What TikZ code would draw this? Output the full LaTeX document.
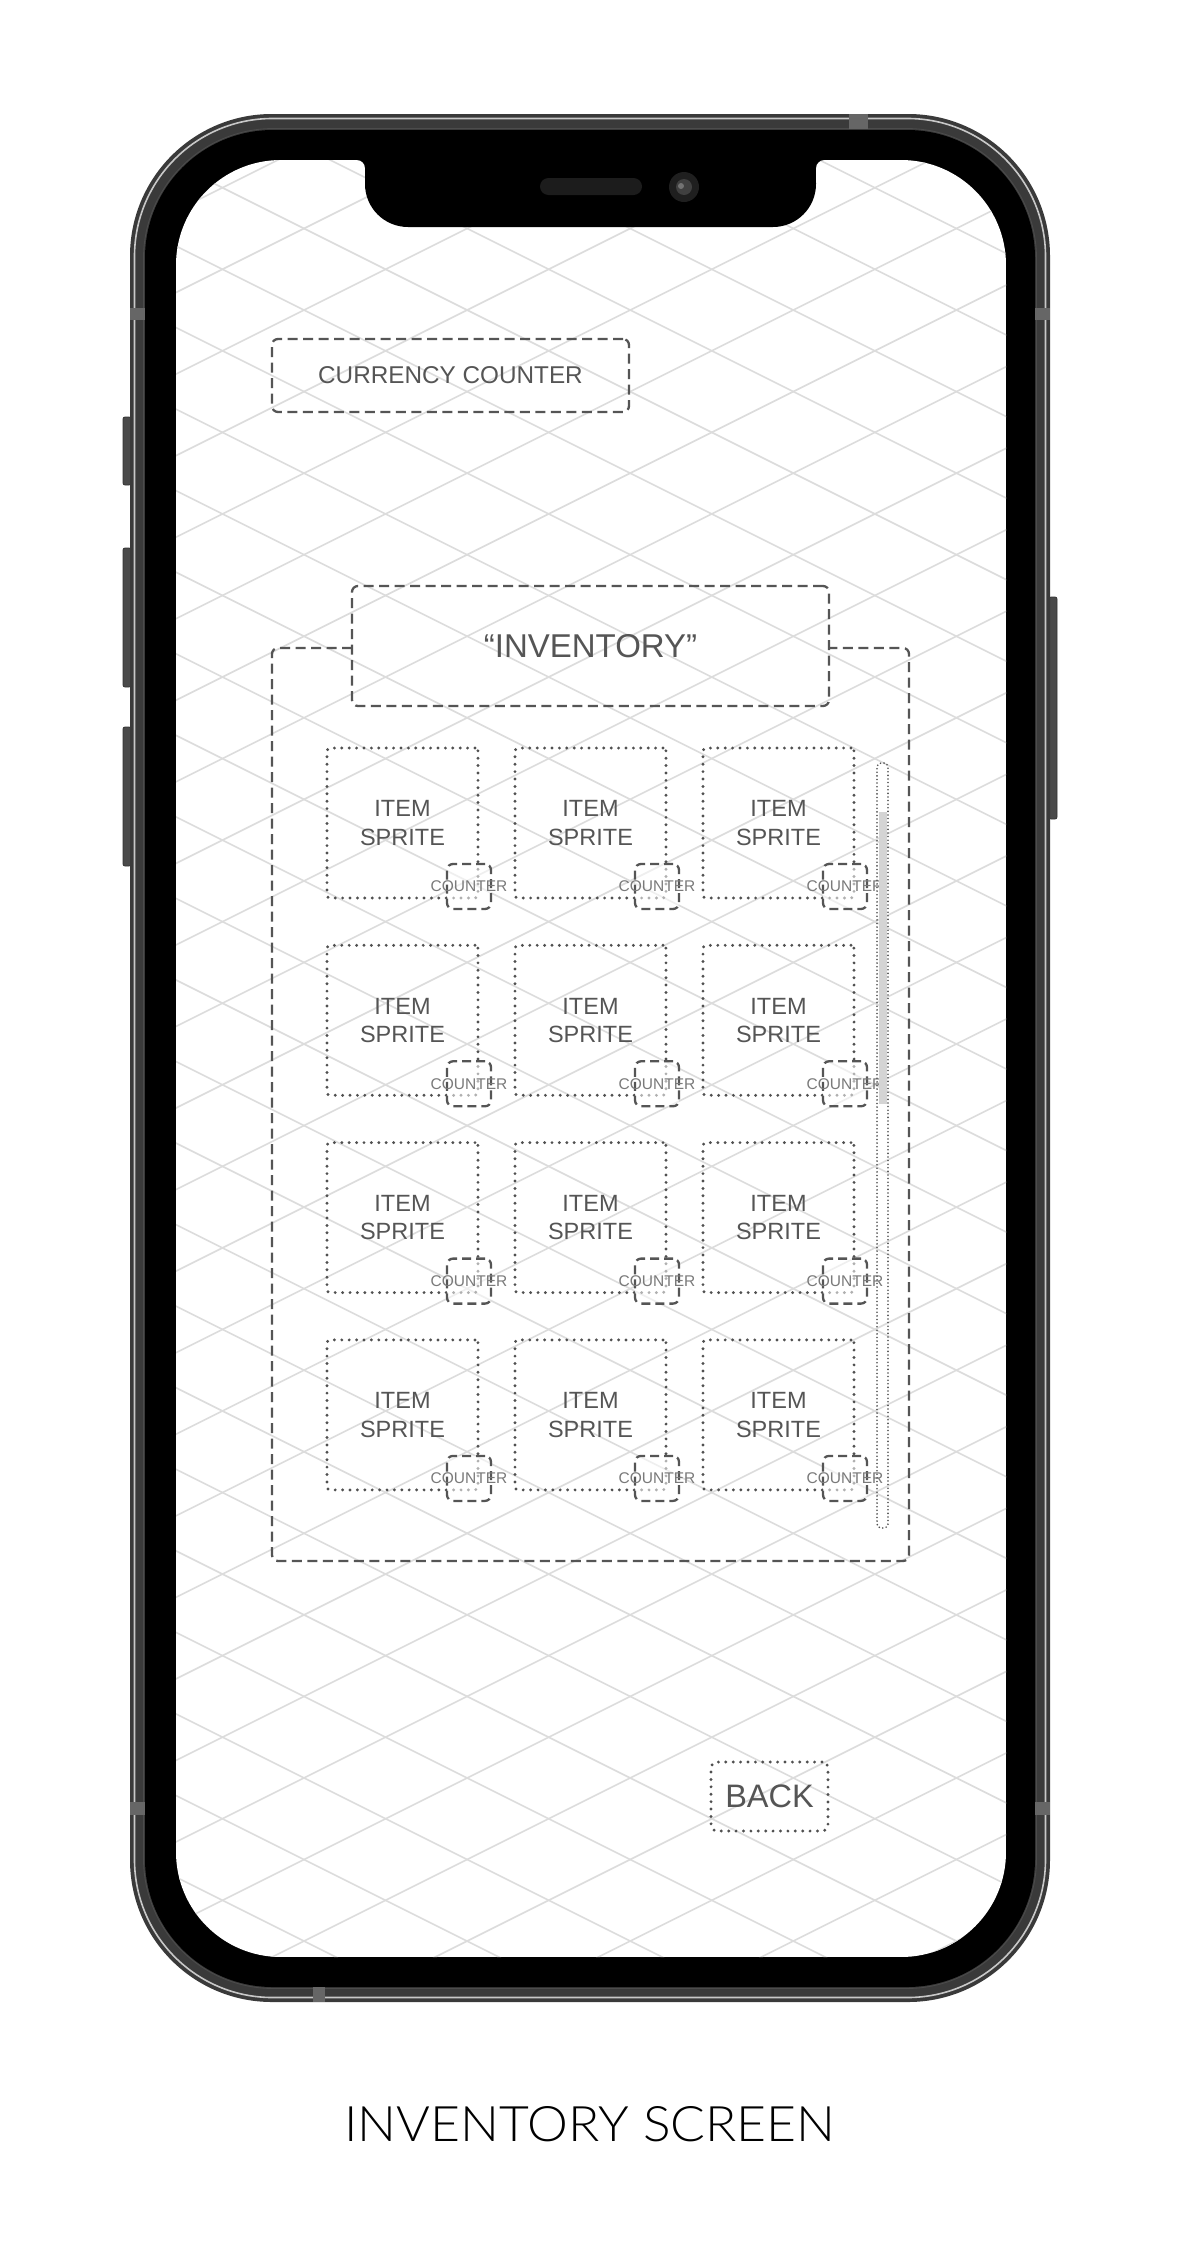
\documentclass[tikz,border=0pt]{standalone}
\usepackage{fontspec}
\usepackage{graphicx}
\setmainfont{Liberation Sans}
\IfFontExistsTF{Lato Light}{\newfontfamily\capfont{Lato Light}}{\newfontfamily\capfont{Liberation Sans}}
\definecolor{framegray}{HTML}{3A3A3A}
\definecolor{framelight}{HTML}{C8C8C8}
\definecolor{markgray}{HTML}{666666}
\definecolor{btngray}{HTML}{4A4A4A}
\definecolor{gridgray}{HTML}{DCDCDC}
\definecolor{uigray}{HTML}{555555}
\definecolor{dotgray}{HTML}{505050}
\definecolor{txtgray}{HTML}{555555}
\definecolor{cntgray}{HTML}{7A7A7A}
\definecolor{thumbgray}{HTML}{D4D4D4}
\definecolor{spkgray}{HTML}{1C1C1C}
\begin{document}
\begin{tikzpicture}[x=1pt,y=-1pt,
  every node/.style={inner sep=0pt, outer sep=0pt},
  dashline/.style={draw=uigray, line width=2.3pt, dash pattern=on 10pt off 5.5pt},
  dotline/.style={draw=dotgray, line width=3.2pt, line cap=round, dash pattern=on 0pt off 7.4pt},
  smalldots/.style={draw=dotgray, line width=1.8pt, line cap=round, dash pattern=on 0pt off 3.6pt},
  gridline/.style={draw=gridgray, line width=1.6pt},
  dbox/.style={rectangle, dashline, rounded corners=6pt, text=txtgray},
  itembox/.style={rectangle, dotline, rounded corners=3pt, minimum width=151pt, minimum height=150pt, text=txtgray, align=center, font=\fontsize{23.5}{28.5}\selectfont},
  cntbox/.style={rectangle, draw=uigray, line width=2.3pt, dash pattern=on 9pt off 5pt, rounded corners=6pt, fill=white, fill opacity=0.55, minimum width=44pt, minimum height=45pt},
  cnttext/.style={text=cntgray, font=\fontsize{15.5}{18}\selectfont},
  sidebtn/.style={fill=btngray, draw=black!80, line width=0.8pt, rounded corners=2pt}
]
\useasboundingbox (0,0) rectangle (1182,2254);
\fill[white] (0,0) rectangle (1182,2254);

% side buttons
\path[sidebtn] (123,417) rectangle (131,485);
\path[sidebtn] (123,548) rectangle (131,687);
\path[sidebtn] (123,727) rectangle (131,866);
\path[sidebtn] (1049,597) rectangle (1057,819);

% phone frame
\fill[framegray, rounded corners=142pt] (130,114) rectangle (1050,2002);
\draw[framelight, line width=1.6pt, rounded corners=138pt] (134.5,118.5) rectangle (1045.5,1997.5);
\draw[black!70, line width=0.8pt, rounded corners=130pt] (143.5,128.5) rectangle (1036.5,1988.5);
\fill[black, rounded corners=128pt] (145,130) rectangle (1035,1987);

% antenna marks
\fill[markgray] (130,308) rectangle (145,320);
\fill[markgray] (130,1802) rectangle (145,1815);
\fill[markgray] (1035,308) rectangle (1050,320);
\fill[markgray] (1035,1802) rectangle (1050,1815);
\fill[markgray] (849,114) rectangle (868,129);
\fill[markgray] (313,1987) rectangle (325,2002);

% screen with grid
\begin{scope}
  \clip[rounded corners=105pt] (176,160) rectangle (1006,1957);
  \fill[white] (176,160) rectangle (1006,1957);
  \foreach \k in {-19,...,9} {
    \draw[gridline] (170,{85+1136.65+\k*81.55}) -- (1012,{506+1136.65+\k*81.55});
  }
  \foreach \k in {-21,...,7} {
    \draw[gridline] (170,{-85+1929.95+\k*81.55}) -- (1012,{-506+1929.95+\k*81.55});
  }
\end{scope}

% notch
\fill[black] (365,131) rectangle (816,184);
\fill[black, rounded corners=43pt] (365,140) rectangle (816,227);
\fill[black] (357,160) .. controls (361.4,160) and (365,163.6) .. (365,168) -- (365,160) -- cycle;
\fill[black] (824,160) .. controls (819.6,160) and (816,163.6) .. (816,168) -- (816,160) -- cycle;
\fill[spkgray, rounded corners=8.5pt] (540,178) rectangle (642,195);
\fill[black!88] (684,187) circle (15);
\fill[black!75] (684,187) circle (8);
\fill[black!55] (681,186) circle (3);

% currency counter
\node[dbox, minimum width=357pt, minimum height=73pt, font=\fontsize{24.3}{28}\selectfont] (cur) at (450.5,375.5) {CURRENCY COUNTER};

% inventory panel
\coordinate (pl) at (352,648);
\coordinate (pr) at (829,648);
\draw[dashline, rounded corners=6pt] (pl) -- (272,648) -- (272,1561) -- (909,1561) -- (909,648) -- (pr);
\node[dbox, minimum width=477pt, minimum height=120pt, font=\fontsize{33}{38}\selectfont] (title) at (590.5,646) {“INVENTORY”};

% items
\foreach \r in {0,1,2,3} {
  \foreach \c in {0,1,2} {
    \pgfmathsetmacro\ix{402.5+188*\c}
    \pgfmathsetmacro\iy{823+197.3*\r}
    \pgfmathsetmacro\cx{\ix+75.5-9}
    \pgfmathsetmacro\cy{\iy+75-11.5}
    \node[itembox] (item-\r-\c) at (\ix,\iy) {ITEM\\SPRITE};
    \node[cntbox] (cnt-\r-\c) at (\cx,\cy) {};
    \node[cnttext] (ct-\r-\c) at (\cx,\cy) {COUNTER};
  }
}

% scrollbar
\fill[thumbgray] (878.5,812) rectangle (886.5,1104);
\node[rectangle, smalldots, rounded corners=4pt, minimum width=11pt, minimum height=765pt] (scroll) at (882.5,1145.5) {};

% back button
\node[rectangle, dotline, rounded corners=6pt, minimum width=117pt, minimum height=69pt, text=txtgray, font=\fontsize{32.5}{36}\selectfont] (back) at (769.5,1796.5) {BACK};

% caption
\node[text=black] (caption) at (590,2124.5) {\resizebox{491pt}{35pt}{\capfont INVENTORY SCREEN}};
\end{tikzpicture}
\end{document}
